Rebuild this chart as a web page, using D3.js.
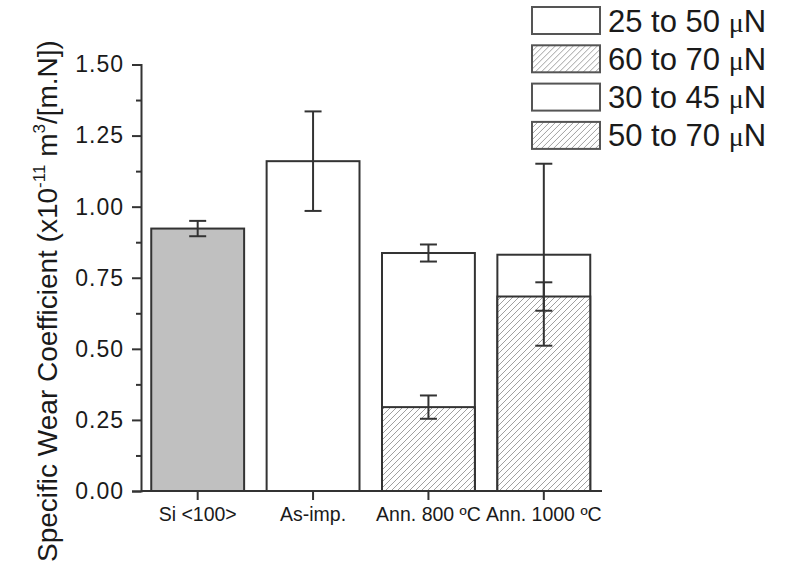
<!DOCTYPE html>
<html>
<head>
<meta charset="utf-8">
<script src="https://cdn.jsdelivr.net/npm/d3@7"></script>
<style>
  body { margin: 0; background: #fff; }
  svg { font-family: "Liberation Sans", Arial, sans-serif; }
</style>
</head>
<body>
<svg id="screen" width="786" height="570"></svg>
<script>
// Data
var categories = ["Si <100>", "As-imp.", "Ann. 800 ºC", "Ann. 1000 ºC"];
var lowerValues = [0.923, 1.160, 0.295, 0.684];
var lowerErrors = [0.027, 0.175, 0.041, 0.050];
var upperValues = [null, null, 0.837, 0.831];
var upperErrors = [null, null, 0.030, 0.320];
var lowerFills = ["gray", "white", "hatch", "hatch"];
var yTicks = [0, 0.25, 0.5, 0.75, 1.0, 1.25, 1.5];
var legendLabels = ["25 to 50 ", "60 to 70 ", "30 to 45 ", "50 to 70 "];
var legendFills = ["white", "hatch", "white", "hatch"];

var ink = "#333";
var svg = d3.select("#screen");

// Hatch pattern
var pat = svg.append("defs").append("pattern")
    .attr("id", "hatch")
    .attr("patternUnits", "userSpaceOnUse")
    .attr("width", 6).attr("height", 6);
pat.append("rect").attr("width", 6).attr("height", 6).attr("fill", "#fff");
pat.append("path")
    .attr("d", "M0,6 L6,0 M-1,1 L1,-1 M5,7 L7,5")
    .attr("stroke", "#a0a0a0").attr("stroke-width", 1);

function fillOf(f) {
    if (f == "gray") return "#c0c0c0";
    if (f == "hatch") return "url(#hatch)";
    return "#fff";
}

// Scales
var x = d3.scaleBand().domain(categories).range([140, 601.5]).paddingInner(0.195).paddingOuter(0.0975);
var y = d3.scaleLinear().domain([0, 1.5]).range([491, 64.5]);
var axisX0 = 141;

// Bars: upper (total) segment first, lower on top of it
var idx = d3.range(categories.length);
svg.selectAll("rect.upper").data(idx.filter(function(i){ return upperValues[i] != null; }))
  .enter().append("rect").attr("class", "upper")
    .attr("x", function(i){ return x(categories[i]); })
    .attr("y", function(i){ return y(upperValues[i]); })
    .attr("width", x.bandwidth())
    .attr("height", function(i){ return y(0) - y(upperValues[i]); })
    .attr("fill", "#fff").attr("stroke", ink).attr("stroke-width", 2);

svg.selectAll("rect.lower").data(idx)
  .enter().append("rect").attr("class", "lower")
    .attr("x", function(i){ return x(categories[i]); })
    .attr("y", function(i){ return y(lowerValues[i]); })
    .attr("width", x.bandwidth())
    .attr("height", function(i){ return y(0) - y(lowerValues[i]); })
    .attr("fill", function(i){ return fillOf(lowerFills[i]); })
    .attr("stroke", ink).attr("stroke-width", 2);

// Error bars
var errs = [];
idx.forEach(function(i){
    errs.push({c: categories[i], v: lowerValues[i], e: lowerErrors[i]});
    if (upperValues[i] != null) errs.push({c: categories[i], v: upperValues[i], e: upperErrors[i]});
});
var cap = 8.5;
var eg = svg.selectAll("g.err").data(errs).enter().append("g").attr("class", "err")
    .attr("stroke", ink).attr("stroke-width", 2);
eg.append("line")
    .attr("x1", function(d){ return x(d.c) + x.bandwidth()/2; })
    .attr("x2", function(d){ return x(d.c) + x.bandwidth()/2; })
    .attr("y1", function(d){ return y(d.v + d.e); })
    .attr("y2", function(d){ return y(d.v - d.e); });
[1, -1].forEach(function(s){
    eg.append("line")
        .attr("x1", function(d){ return x(d.c) + x.bandwidth()/2 - cap; })
        .attr("x2", function(d){ return x(d.c) + x.bandwidth()/2 + cap; })
        .attr("y1", function(d){ return y(d.v + s*d.e); })
        .attr("y2", function(d){ return y(d.v + s*d.e); });
});

// Y axis, major and minor ticks
var yAxis = svg.append("g").attr("transform", "translate(" + axisX0 + ",0)")
    .call(d3.axisLeft(y).tickValues(yTicks).tickSize(9).tickPadding(8).tickFormat(d3.format(".2f")));
svg.append("g").attr("transform", "translate(" + axisX0 + ",0)")
    .call(d3.axisLeft(y).tickValues(d3.range(0.125, 1.5, 0.25)).tickSize(5).tickFormat(""))
    .select(".domain").remove();

// X axis
var xAxis = svg.append("g").attr("transform", "translate(0," + y(0) + ")")
    .call(d3.axisBottom(x).tickSize(9).tickPadding(7).tickSizeOuter(0));
xAxis.select(".domain").attr("d", "M" + axisX0 + ",0H602");

svg.selectAll(".domain, .tick line").attr("stroke", ink).attr("stroke-width", 2);
yAxis.selectAll("text").attr("font-size", 23).attr("letter-spacing", 1).attr("fill", "#1a1a1a")
    .attr("font-family", "'Liberation Sans', Arial, sans-serif");
xAxis.selectAll("text").attr("font-size", 19.5).attr("fill", "#1a1a1a")
    .attr("font-family", "'Liberation Sans', Arial, sans-serif");

// Y title
var title = svg.append("text")
    .attr("transform", "translate(57,301) rotate(-90)")
    .attr("text-anchor", "middle").attr("font-size", 28).attr("fill", "#1a1a1a");
title.append("tspan").text("Specific Wear Coefficient (x10");
title.append("tspan").attr("font-size", 17).attr("dy", -12).text("-11");
title.append("tspan").attr("dy", 12).text(" m");
title.append("tspan").attr("font-size", 17).attr("dy", -12).text("3");
title.append("tspan").attr("dy", 12).text("/[m.N])");

// Legend
var lg = svg.selectAll("g.leg").data(legendLabels).enter().append("g").attr("class", "leg")
    .attr("transform", function(d, i){ return "translate(532," + (7 + i*38.3) + ")"; });
lg.append("rect").attr("width", 68).attr("height", 27)
    .attr("fill", function(d, i){ return fillOf(legendFills[i]); })
    .attr("stroke", "#555").attr("stroke-width", 2);
var lt = lg.append("text").attr("x", 76).attr("y", 24.5).attr("font-size", 31).attr("fill", "#1a1a1a");
lt.append("tspan").text(function(d){ return d; });
lt.append("tspan").attr("font-family", "'Liberation Serif', serif").attr("font-size", 28).text("μ");
lt.append("tspan").text("N");
</script>
</body>
</html>
